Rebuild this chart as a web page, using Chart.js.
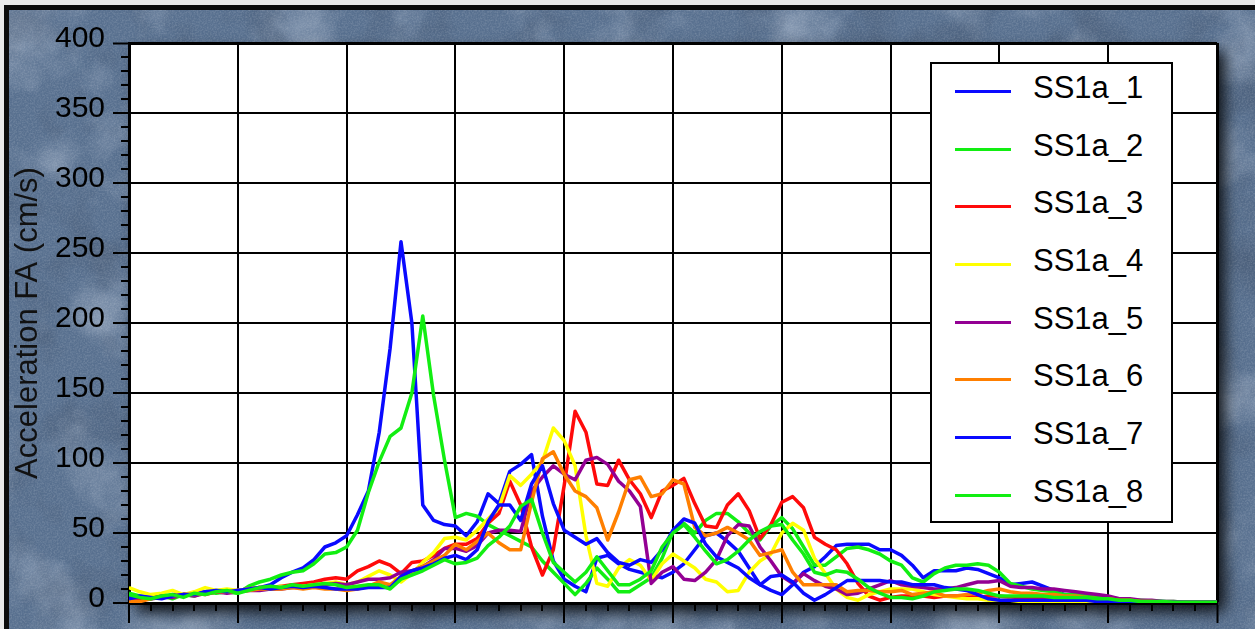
<!DOCTYPE html>
<html>
<head>
<meta charset="utf-8">
<title>Acceleration FA</title>
<script src="https://cdn.jsdelivr.net/npm/chart.js@4.4.1/dist/chart.umd.min.js"></script>
<style>
  html, body { margin: 0; padding: 0; width: 1255px; height: 629px; overflow: hidden; background: #e9e9e9; }
  #frame {
    position: absolute; left: 4px; top: 5px; width: 1270px; height: 640px;
    border-left: 5px solid #0c0c0c; border-top: 5px solid #0c0c0c;
    background-color: #58708f;
    background-size: 1300px 700px;
    background-image: url("data:image/svg+xml,%3Csvg xmlns='http://www.w3.org/2000/svg' width='1300' height='700'%3E%3Cfilter id='a' x='0' y='0' width='100%25' height='100%25'%3E%3CfeTurbulence type='fractalNoise' baseFrequency='0.012' numOctaves='5' seed='4'/%3E%3CfeColorMatrix values='0 0 0 0 0.8 0 0 0 0 0.86 0 0 0 0 0.96 0.9 0 0 0 -0.42'/%3E%3C/filter%3E%3Cfilter id='b' x='0' y='0' width='100%25' height='100%25'%3E%3CfeTurbulence type='fractalNoise' baseFrequency='0.018' numOctaves='4' seed='9'/%3E%3CfeColorMatrix values='0 0 0 0 0.05 0 0 0 0 0.08 0 0 0 0 0.14 -1.1 0 0 0 0.56'/%3E%3C/filter%3E%3Cfilter id='c' x='0' y='0' width='100%25' height='100%25'%3E%3CfeTurbulence type='fractalNoise' baseFrequency='0.6' numOctaves='2' seed='2'/%3E%3CfeColorMatrix values='0 0 0 0 1 0 0 0 0 1 0 0 0 0 1 0.3 0 0 0 -0.11'/%3E%3C/filter%3E%3Crect width='1300' height='700' filter='url(%23a)'/%3E%3Crect width='1300' height='700' filter='url(%23b)'/%3E%3Crect width='1300' height='700' filter='url(%23c)'/%3E%3C/svg%3E");
  }
  #chart { position: absolute; left: 0; top: 0; }
  #legend {
    position: absolute; left: 930px; top: 62px; width: 243px; height: 461px;
    box-sizing: border-box; border: 2px solid #000; background: #fff;
    font: 31px 'Liberation Sans', Arial, Helvetica, sans-serif; color: #000;
  }
  #legend .row { position: absolute; left: 0; height: 0; width: 100%; }
  #legend .swatch { position: absolute; left: 23px; top: -1px; width: 56px; height: 3px; }
  #legend .label { position: absolute; left: 101px; top: -22px; line-height: 37px; white-space: nowrap; }
</style>
</head>
<body>
<div id="frame"></div>
<canvas id="chart" width="1255" height="629"></canvas>
<div id="legend"></div>
<script>
// time axis (s), sampled every 0.1 s
const time = [
  0.0, 0.1, 0.2, 0.3, 0.4, 0.5, 0.6, 0.7, 0.8, 0.9,
  1.0, 1.1, 1.2, 1.3, 1.4, 1.5, 1.6, 1.7, 1.8, 1.9,
  2.0, 2.1, 2.2, 2.3, 2.4, 2.5, 2.6, 2.7, 2.8, 2.9,
  3.0, 3.1, 3.2, 3.3, 3.4, 3.5, 3.6, 3.7, 3.8, 3.9,
  4.0, 4.1, 4.2, 4.3, 4.4, 4.5, 4.6, 4.7, 4.8, 4.9,
  5.0, 5.1, 5.2, 5.3, 5.4, 5.5, 5.6, 5.7, 5.8, 5.9,
  6.0, 6.1, 6.2, 6.3, 6.4, 6.5, 6.6, 6.7, 6.8, 6.9,
  7.0, 7.1, 7.2, 7.3, 7.4, 7.5, 7.6, 7.7, 7.8, 7.9,
  8.0, 8.1, 8.2, 8.3, 8.4, 8.5, 8.6, 8.7, 8.8, 8.9,
  9.0, 9.1, 9.2, 9.3, 9.4, 9.5, 9.6, 9.7, 9.8, 9.9, 10.0
];

// acceleration FA (cm/s) per run
const ss1a_1 = [
  5, 4, 3, 4, 6, 6, 7, 8, 9, 9,
  9, 10, 11, 13, 18, 22, 25, 31, 40, 43,
  48, 63, 80, 122, 182, 258, 200, 70, 59, 56,
  55, 48, 58, 78, 71, 94, 99, 106, 62, 30,
  17, 12, 8, 32, 34, 28, 24, 22, 20, 18,
  22, 28, 38, 48, 50, 44, 37, 25, 13, 9,
  6, 13, 22, 26, 33, 41, 42, 42, 42, 38,
  38, 34, 27, 18, 23, 23, 23, 25, 24, 21,
  18, 13, 14, 15, 12, 9, 6, 5, 4, 3,
  2.5, 2, 2, 1.5, 1, 1, 0.5, 0.5, 0.5, 0.5, 0.5
];
const ss1a_2 = [
  7, 5, 4, 5, 3, 6, 5, 8, 7, 8,
  7, 12, 15, 17, 20, 22, 23, 28, 35, 36,
  40, 52, 79, 101, 119, 125, 150, 205, 148, 102,
  61, 64, 62, 56, 52, 48, 44, 40, 30, 22,
  14, 6, 14, 25, 17, 8, 8, 13, 18, 32,
  51, 57, 50, 59, 64, 64, 58, 50, 45, 55,
  61, 53, 40, 27, 27, 33, 39, 40, 38, 35,
  30, 27, 18, 15, 21, 25, 27, 27, 28, 27,
  22, 14, 12, 10, 9, 8, 6, 6, 5, 4,
  4, 3, 2, 2, 1.5, 1, 1, 0.5, 0.5, 0.5, 0.5
];
const ss1a_3 = [
  3, 2, 4, 5, 4, 6, 7, 6, 8, 8,
  9, 10, 11, 11, 12, 13, 14, 15, 17, 18,
  17, 23, 26, 30, 27, 21, 29, 30, 34, 39,
  42, 42, 46, 57, 64, 87, 70, 40, 20, 38,
  84, 137, 122, 85, 84, 102, 88, 78, 61, 80,
  84, 89, 71, 55, 54, 70, 78, 66, 46, 56,
  72, 76, 68, 47, 42, 38, 28, 14, 5, 2,
  4, 5, 5, 5, 4, 5, 5, 5, 4, 5,
  5, 4, 4, 3, 3, 3, 3, 2, 2, 2,
  1, 1, 1, 0.5, 0.5, 0.5, 0.5, 0.5, 0.5, 0.5, 0.5
];
const ss1a_4 = [
  11, 8, 6, 7, 9, 6, 8, 11, 9, 10,
  9, 10, 11, 10, 12, 11, 12, 13, 14, 15,
  13, 15, 19, 23, 20, 15, 21, 29, 36, 46,
  47, 45, 52, 60, 68, 91, 84, 92, 101, 125,
  116, 98, 48, 14, 12, 25, 31, 27, 16, 28,
  35, 30, 25, 17, 15, 8, 9, 22, 30, 35,
  50, 57, 52, 32, 21, 10, 4, 2, 6, 8,
  10, 10, 10, 8, 6, 5, 4, 3, 3, 2,
  2, 2, 1, 1, 1, 1, 1, 1, 0.5, 0.5,
  0.5, 0.5, 0.5, 0.5, 0.5, 0.5, 0.5, 0.5, 0.5, 0.5, 0.5
];
const ss1a_5 = [
  3, 4, 3, 5, 4, 6, 5, 7, 8, 7,
  8, 9, 9, 10, 10, 11, 11, 12, 13, 14,
  13, 15, 17, 17, 18, 22, 23, 26, 31, 39,
  39, 37, 41, 50, 52, 52, 51, 80, 90, 98,
  92, 88, 102, 104, 99, 87, 80, 69, 14, 22,
  26, 17, 16, 22, 31, 48, 56, 55, 40, 30,
  19, 14, 21, 16, 12, 10, 6, 7, 10, 13,
  16, 13, 12, 11, 10, 10, 11, 13, 15, 15,
  16, 12, 11, 11, 10, 10, 9, 8, 7, 6,
  5, 3, 3, 2, 2, 1, 1, 0.5, 0.5, 0.5, 0.5
];
const ss1a_6 = [
  1, 1, 3, 4, 5, 6, 6, 7, 8, 8,
  8, 9, 10, 10, 10, 11, 10, 11, 10, 10,
  9, 10, 12, 15, 13, 19, 22, 26, 30, 34,
  42, 38, 44, 50, 43, 38, 38, 72, 103, 108,
  92, 80, 76, 68, 45, 65, 88, 90, 76, 78,
  88, 85, 54, 48, 50, 54, 50, 45, 34, 36,
  38, 22, 13, 13, 13, 13, 8, 9, 9, 8,
  8, 9, 6, 7, 8, 5, 5, 6, 7, 9,
  10, 8, 7, 7, 6, 6, 5, 5, 4, 3,
  3, 2, 2, 1, 1, 0.5, 0.5, 0.5, 0.5, 0.5, 0.5
];
const ss1a_7 = [
  3, 5, 4, 3, 5, 6, 6, 8, 9, 8,
  9, 10, 11, 10, 11, 12, 11, 12, 11, 10,
  10, 10, 11, 11, 11, 19, 23, 25, 28, 32,
  34, 31, 38, 58, 70, 70, 59, 85, 98, 71,
  52, 47, 42, 46, 36, 29, 27, 31, 29, 38,
  52, 60, 57, 42, 33, 29, 25, 18, 13, 19,
  20, 15, 7, 2, 6, 11, 16, 16, 16, 16,
  15, 15, 13, 13, 13, 11, 10, 9, 6, 3,
  2, 2, 2, 2, 2, 2, 2, 2, 2, 1,
  1, 1, 1, 0.5, 0.5, 0.5, 0.5, 0.5, 0.5, 0.5, 0.5
];
const ss1a_8 = [
  6, 4, 3, 5, 6, 4, 7, 6, 8, 9,
  7, 9, 11, 12, 11, 13, 12, 13, 14, 13,
  11, 12, 13, 13, 10, 17, 20, 23, 27, 31,
  28, 29, 32, 41, 47, 55, 69, 74, 50, 29,
  22, 15, 22, 33, 23, 13, 13, 17, 23, 40,
  50, 56, 47, 37, 28, 31, 37, 45, 51, 55,
  56, 45, 35, 22, 20, 23, 22, 17, 11, 7,
  4, 4, 3, 5, 8, 9, 10, 10, 9, 7,
  5, 5, 5, 5, 5, 4, 4, 4, 4, 3,
  3, 2, 2, 1, 1, 1, 0.5, 0.5, 0.5, 0.5, 0.5
];

const seriesNames = ['SS1a_1', 'SS1a_2', 'SS1a_3', 'SS1a_4', 'SS1a_5', 'SS1a_6', 'SS1a_7', 'SS1a_8'];
const seriesValues = [ss1a_1, ss1a_2, ss1a_3, ss1a_4, ss1a_5, ss1a_6, ss1a_7, ss1a_8];
const seriesColors = ['#0a0aff', '#12ee12', '#ff0a0a', '#ffff00', '#930093', '#ff7f00', '#0a0aff', '#12ee12'];

const FONT = "'Liberation Sans', Arial, Helvetica, sans-serif";
Chart.defaults.font.family = FONT;

// white plot panel with a dark drop shadow
const plotShadow = {
  id: 'plotShadow',
  beforeDraw(chart) {
    const { ctx, chartArea: a } = chart;
    ctx.save();
    ctx.shadowColor = 'rgba(0,0,0,0.85)';
    ctx.shadowBlur = 14;
    ctx.shadowOffsetX = 8;
    ctx.shadowOffsetY = 9;
    ctx.fillStyle = '#ffffff';
    ctx.fillRect(a.left, a.top, a.width, a.height);
    ctx.restore();
  }
};

// short minor tick marks between the labelled ticks
const minorTicks = {
  id: 'minorTicks',
  afterDraw(chart) {
    const { ctx, chartArea: a, scales: { x, y } } = chart;
    ctx.save();
    ctx.strokeStyle = '#000';
    ctx.lineWidth = 2;
    ctx.beginPath();
    for (let v = 10; v < 400; v += 10) {
      if (v % 50 === 0) continue;
      const py = Math.round(y.getPixelForValue(v));
      ctx.moveTo(a.left - 8, py);
      ctx.lineTo(a.left, py);
    }
    for (let k = 1; k < 50; k++) {
      if (k % 5 === 0) continue;
      const px = Math.round(x.getPixelForValue(k / 5));
      ctx.moveTo(px, a.bottom);
      ctx.lineTo(px, a.bottom + 8);
    }
    ctx.stroke();
    ctx.restore();
  }
};

const chart = new Chart(document.getElementById('chart'), {
  type: 'line',
  data: {
    datasets: seriesValues.map((vals, k) => ({
      label: seriesNames[k],
      data: vals.map((v, i) => ({ x: time[i], y: v })),
      borderColor: seriesColors[k],
      backgroundColor: seriesColors[k],
      borderWidth: 3.5,
      borderJoinStyle: 'round',
      pointRadius: 0,
      tension: 0,
      fill: false,
      order: seriesValues.length - k
    }))
  },
  options: {
    responsive: false,
    animation: false,
    devicePixelRatio: 1,
    layout: { padding: { left: 0, top: 43, right: 38, bottom: 0 } },
    plugins: { legend: { display: false }, tooltip: { enabled: false } },
    scales: {
      x: {
        type: 'linear', min: 0, max: 10,
        ticks: { display: false, stepSize: 1 },
        grid: {
          color: '#000',
          lineWidth: c => (c.tick && c.tick.value === 10 ? 3 : 2),
          tickLength: 20, tickColor: '#000', tickWidth: 2
        },
        border: { display: true, color: '#000', width: 3 },
        afterFit: s => { s.height = 19; }
      },
      y: {
        min: 0, max: 400,
        ticks: { stepSize: 50, autoSkip: false, color: '#000', font: { size: 30 }, padding: 8, labelOffset: -4 },
        grid: {
          color: '#000',
          lineWidth: c => (c.tick && c.tick.value === 400 ? 3 : 2),
          tickLength: 16, tickColor: '#000', tickWidth: 2
        },
        border: { display: true, color: '#000', width: 3 },
        title: {
          display: true, text: 'Acceleration FA (cm/s)', color: '#111',
          font: { size: 31 }, padding: { top: 10, bottom: 0 }
        },
        afterFit: s => { s.width = 129; }
      }
    }
  },
  plugins: [plotShadow, minorTicks]
});

// legend box built from the chart's datasets; one row every 57.66 px
const legendBox = document.getElementById('legend');
chart.data.datasets.forEach((ds, k) => {
  const row = document.createElement('div');
  row.className = 'row';
  row.style.top = Math.round(27 + 57.66 * k) + 'px';
  const sw = document.createElement('span');
  sw.className = 'swatch';
  sw.style.background = ds.borderColor;
  const tx = document.createElement('span');
  tx.className = 'label';
  tx.textContent = ds.label;
  row.append(sw, tx);
  legendBox.append(row);
});
</script>
</body>
</html>
